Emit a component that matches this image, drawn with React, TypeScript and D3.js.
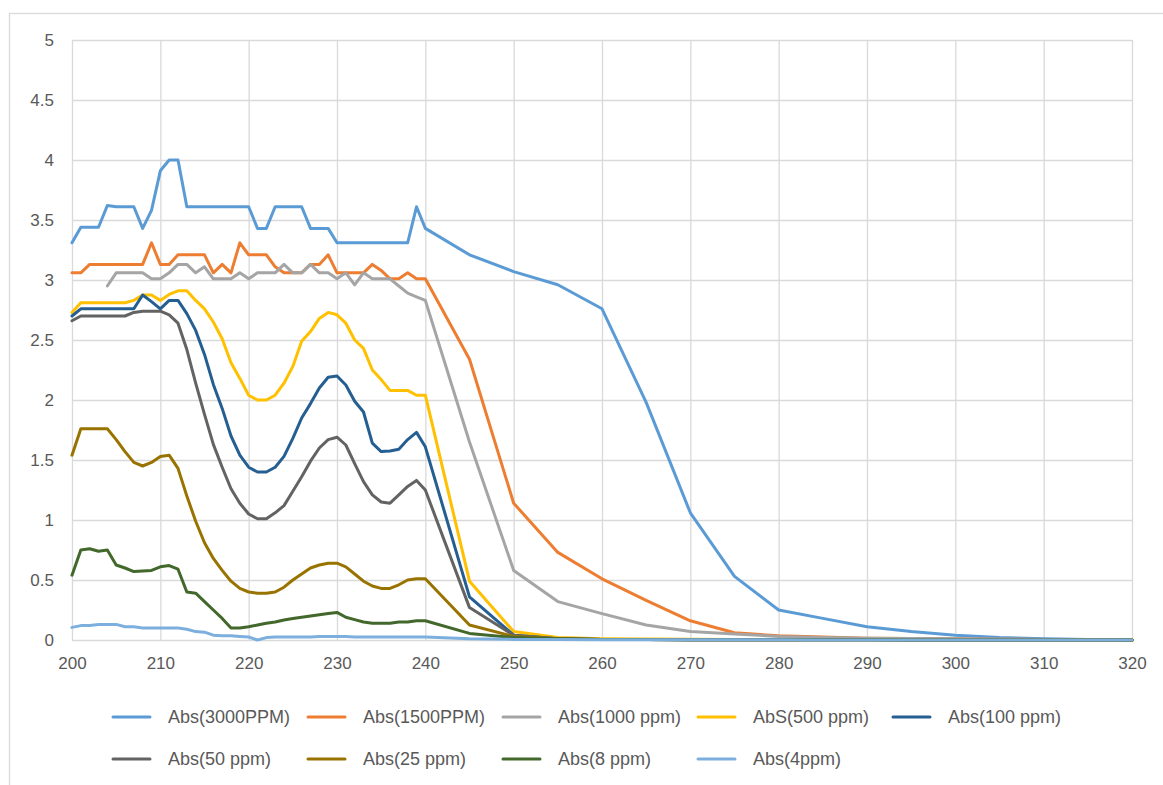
import React, { useEffect, useRef } from 'react';
import * as d3 from 'd3';

// wavelength (nm): 1 nm steps up to 240, then 5 nm steps
const wavelengths: number[] = [
  200, 201, 202, 203, 204, 205, 206, 207, 208, 209,
  210, 211, 212, 213, 214, 215, 216, 217, 218, 219,
  220, 221, 222, 223, 224, 225, 226, 227, 228, 229,
  230, 231, 232, 233, 234, 235, 236, 237, 238, 239,
  240, 245, 250, 255, 260, 265, 270, 275, 280, 285,
  290, 295, 300, 305, 310, 315, 320,
];

const abs3000: number[] = [
  3.31, 3.44, 3.44, 3.44, 3.62, 3.61, 3.61, 3.61, 3.43, 3.58,
  3.91, 4.0, 4.0, 3.61, 3.61, 3.61, 3.61, 3.61, 3.61, 3.61,
  3.61, 3.43, 3.43, 3.61, 3.61, 3.61, 3.61, 3.43, 3.43, 3.43,
  3.31, 3.31, 3.31, 3.31, 3.31, 3.31, 3.31, 3.31, 3.31, 3.61,
  3.43, 3.21, 3.07, 2.96, 2.76, 1.98, 1.06, 0.53, 0.25, 0.18,
  0.11, 0.07, 0.04, 0.02, 0.01, 0.005, 0.0,
];
const abs1500: number[] = [
  3.06, 3.06, 3.13, 3.13, 3.13, 3.13, 3.13, 3.13, 3.13, 3.31,
  3.13, 3.13, 3.21, 3.21, 3.21, 3.21, 3.06, 3.13, 3.06, 3.31,
  3.21, 3.21, 3.21, 3.11, 3.06, 3.06, 3.06, 3.13, 3.13, 3.21,
  3.06, 3.06, 3.06, 3.06, 3.13, 3.08, 3.01, 3.01, 3.06, 3.01,
  3.01, 2.34, 1.14, 0.73, 0.51, 0.33, 0.16, 0.06, 0.035, 0.025,
  0.015, 0.012, 0.01, 0.007, 0.005, 0.003, 0.0,
];
const abs1000: (number | null)[] = [
  null, null, null, null, 2.95, 3.06, 3.06, 3.06, 3.06, 3.01,
  3.01, 3.06, 3.13, 3.13, 3.06, 3.11, 3.01, 3.01, 3.01, 3.06,
  3.01, 3.06, 3.06, 3.06, 3.13, 3.06, 3.06, 3.13, 3.06, 3.06,
  3.01, 3.06, 2.96, 3.06, 3.01, 3.01, 3.01, 2.95, 2.89, 2.86,
  2.83, 1.65, 0.58, 0.32, 0.22, 0.125, 0.07, 0.05, 0.03, 0.02,
  0.015, 0.012, 0.01, 0.007, 0.005, 0.003, 0.0,
];
const abs500: number[] = [
  2.73, 2.81, 2.81, 2.81, 2.81, 2.81, 2.81, 2.83, 2.875, 2.875,
  2.83, 2.88, 2.91, 2.91, 2.83, 2.76, 2.65, 2.51, 2.31, 2.18,
  2.04, 2.0, 2.0, 2.04, 2.14, 2.28, 2.49, 2.57, 2.68, 2.73,
  2.71, 2.64, 2.5, 2.43, 2.25, 2.17, 2.08, 2.08, 2.08, 2.04,
  2.04, 0.49, 0.07, 0.02, 0.01, 0.008, 0.006, 0.005, 0.004, 0.003,
  0.003, 0.002, 0.002, 0.001, 0.001, 0.0, 0.0,
];
const abs100: number[] = [
  2.70, 2.76, 2.76, 2.76, 2.76, 2.76, 2.76, 2.76, 2.875, 2.82,
  2.76, 2.83, 2.83, 2.72, 2.58, 2.38, 2.13, 1.93, 1.70, 1.54,
  1.44, 1.40, 1.40, 1.44, 1.53, 1.68, 1.85, 1.97, 2.10, 2.19,
  2.20, 2.125, 1.99, 1.90, 1.64, 1.57, 1.575, 1.59, 1.67, 1.73,
  1.61, 0.36, 0.04, 0.01, 0.005, 0.004, 0.003, 0.003, 0.002, 0.002,
  0.002, 0.001, 0.001, 0.001, 0.0, 0.0, 0.0,
];
const abs50: number[] = [
  2.66, 2.70, 2.70, 2.70, 2.70, 2.70, 2.70, 2.73, 2.74, 2.74,
  2.74, 2.71, 2.64, 2.42, 2.14, 1.88, 1.63, 1.44, 1.26, 1.14,
  1.05, 1.01, 1.01, 1.06, 1.12, 1.24, 1.36, 1.49, 1.60, 1.67,
  1.69, 1.625, 1.47, 1.32, 1.21, 1.15, 1.14, 1.21, 1.28, 1.33,
  1.25, 0.27, 0.04, 0.01, 0.005, 0.004, 0.003, 0.003, 0.002, 0.002,
  0.002, 0.001, 0.001, 0.001, 0.0, 0.0, 0.0,
];
const abs25: number[] = [
  1.54, 1.76, 1.76, 1.76, 1.76, 1.67, 1.57, 1.48, 1.45, 1.48,
  1.53, 1.54, 1.43, 1.20, 0.99, 0.81, 0.68, 0.58, 0.49, 0.43,
  0.40, 0.39, 0.39, 0.40, 0.44, 0.50, 0.55, 0.60, 0.625, 0.64,
  0.64, 0.61, 0.55, 0.49, 0.45, 0.43, 0.43, 0.46, 0.50, 0.51,
  0.51, 0.125, 0.03, 0.01, 0.005, 0.004, 0.003, 0.003, 0.002, 0.002,
  0.002, 0.001, 0.001, 0.001, 0.0, 0.0, 0.0,
];
const abs8: number[] = [
  0.54, 0.75, 0.76, 0.74, 0.75, 0.625, 0.60, 0.57, 0.575, 0.58,
  0.61, 0.62, 0.59, 0.40, 0.39, 0.32, 0.25, 0.18, 0.10, 0.10,
  0.11, 0.125, 0.14, 0.15, 0.167, 0.18, 0.19, 0.20, 0.21, 0.22,
  0.23, 0.19, 0.17, 0.15, 0.14, 0.14, 0.14, 0.15, 0.15, 0.16,
  0.16, 0.055, 0.02, 0.01, 0.005, 0.004, 0.003, 0.003, 0.002, 0.002,
  0.002, 0.001, 0.001, 0.001, 0.0, 0.0, 0.0,
];
const abs4: number[] = [
  0.105, 0.12, 0.12, 0.13, 0.13, 0.13, 0.11, 0.11, 0.10, 0.10,
  0.10, 0.10, 0.10, 0.09, 0.07, 0.065, 0.04, 0.035, 0.035, 0.03,
  0.025, 0.0, 0.02, 0.025, 0.025, 0.025, 0.025, 0.025, 0.03, 0.03,
  0.03, 0.03, 0.025, 0.025, 0.025, 0.025, 0.025, 0.025, 0.025, 0.025,
  0.025, 0.01, 0.005, 0.004, 0.003, 0.003, 0.002, 0.002, 0.002, 0.001,
  0.001, 0.001, 0.001, 0.0, 0.0, 0.0, 0.0,
];

const seriesNames: string[] = [
  'Abs(3000PPM)', 'Abs(1500PPM)', 'Abs(1000 ppm)', 'AbS(500 ppm)', 'Abs(100 ppm)',
  'Abs(50 ppm)', 'Abs(25 ppm)', 'Abs(8 ppm)', 'Abs(4ppm)',
];
const seriesValues = [abs3000, abs1500, abs1000, abs500, abs100, abs50, abs25, abs8, abs4];
const seriesColors: string[] = [
  '#5B9BD5', '#ED7D31', '#A5A5A5', '#FFC000', '#255E91',
  '#636363', '#997300', '#43682B', '#7CAFDD',
];

const xTicks: number[] = [200, 210, 220, 230, 240, 250, 260, 270, 280, 290, 300, 310, 320];
const yTicks: number[] = [0, 0.5, 1, 1.5, 2, 2.5, 3, 3.5, 4, 4.5, 5];

const W = 1163;
const H = 785;
const FONT = '"Liberation Sans", Arial, sans-serif';

export default function App() {
  const svgRef = useRef<SVGSVGElement | null>(null);

  useEffect(() => {
    const svg = d3.select(svgRef.current);
    svg.selectAll('*').remove();

    // chart area border
    svg.append('rect')
      .attr('x', 9.5).attr('y', 13.5)
      .attr('width', W + 20).attr('height', H + 20)
      .attr('fill', '#fff')
      .attr('stroke', '#D9D9D9').attr('stroke-width', 1.3);

    const x = d3.scaleLinear().domain([200, 320]).range([72, 1132]);
    const y = d3.scaleLinear().domain([0, 5]).range([640, 40]);

    // gridlines
    const grid = svg.append('g');
    grid.selectAll('line.h')
      .data(yTicks)
      .join('line')
      .attr('x1', x(200)).attr('x2', x(320))
      .attr('y1', (d) => y(d) + 0.5).attr('y2', (d) => y(d) + 0.5)
      .attr('stroke', '#D9D9D9').attr('stroke-width', 1.3);
    grid.selectAll('line.v')
      .data(xTicks)
      .join('line')
      .attr('x1', (d) => x(d) + 0.5).attr('x2', (d) => x(d) + 0.5)
      .attr('y1', y(5)).attr('y2', y(0))
      .attr('stroke', '#D9D9D9').attr('stroke-width', 1.3);

    // axes (labels only, excel style)
    const yAxis = d3.axisLeft(y).tickValues(yTicks).tickSize(0).tickPadding(0)
      .tickFormat((d) => d3.format('')(d as number));
    const gY = svg.append('g').attr('transform', 'translate(54,0)').call(yAxis);
    gY.select('.domain').remove();
    gY.selectAll('text')
      .attr('font-family', FONT).attr('font-size', 17).attr('fill', '#595959');

    const xAxis = d3.axisBottom(x).tickValues(xTicks).tickSize(0).tickPadding(0);
    const gX = svg.append('g').attr('transform', 'translate(0,657)').call(xAxis);
    gX.select('.domain').remove();
    gX.selectAll('text')
      .attr('font-family', FONT).attr('font-size', 17).attr('fill', '#595959');

    // series
    const line = d3.line<number | null>()
      .defined((d) => d !== null)
      .x((_, i) => x(wavelengths[i]))
      .y((d) => y(d as number));

    svg.append('g')
      .selectAll('path')
      .data(seriesValues)
      .join('path')
      .attr('d', (d) => line(d as (number | null)[]))
      .attr('fill', 'none')
      .attr('stroke', (_, i) => seriesColors[i])
      .attr('stroke-width', 3)
      .attr('stroke-linejoin', 'round')
      .attr('stroke-linecap', 'round');

    // legend, two rows
    const legend = svg.append('g');
    const items = legend.selectAll('g')
      .data(seriesNames)
      .join('g')
      .attr('transform', (_, i) => `translate(${113 + (i % 5) * 195},${i < 5 ? 717 : 759})`);
    items.append('line')
      .attr('x1', 0).attr('x2', 37).attr('y1', 0).attr('y2', 0)
      .attr('stroke', (_, i) => seriesColors[i])
      .attr('stroke-width', 3)
      .attr('stroke-linecap', 'round');
    items.append('text')
      .attr('x', 55).attr('y', 0).attr('dy', '0.35em')
      .attr('font-family', FONT).attr('font-size', 18).attr('fill', '#595959')
      .text((d) => d);
  }, []);

  return (
    <svg
      ref={svgRef}
      width={W}
      height={H}
      style={{ position: 'absolute', left: 0, top: 0, background: '#fff' }}
    />
  );
}
